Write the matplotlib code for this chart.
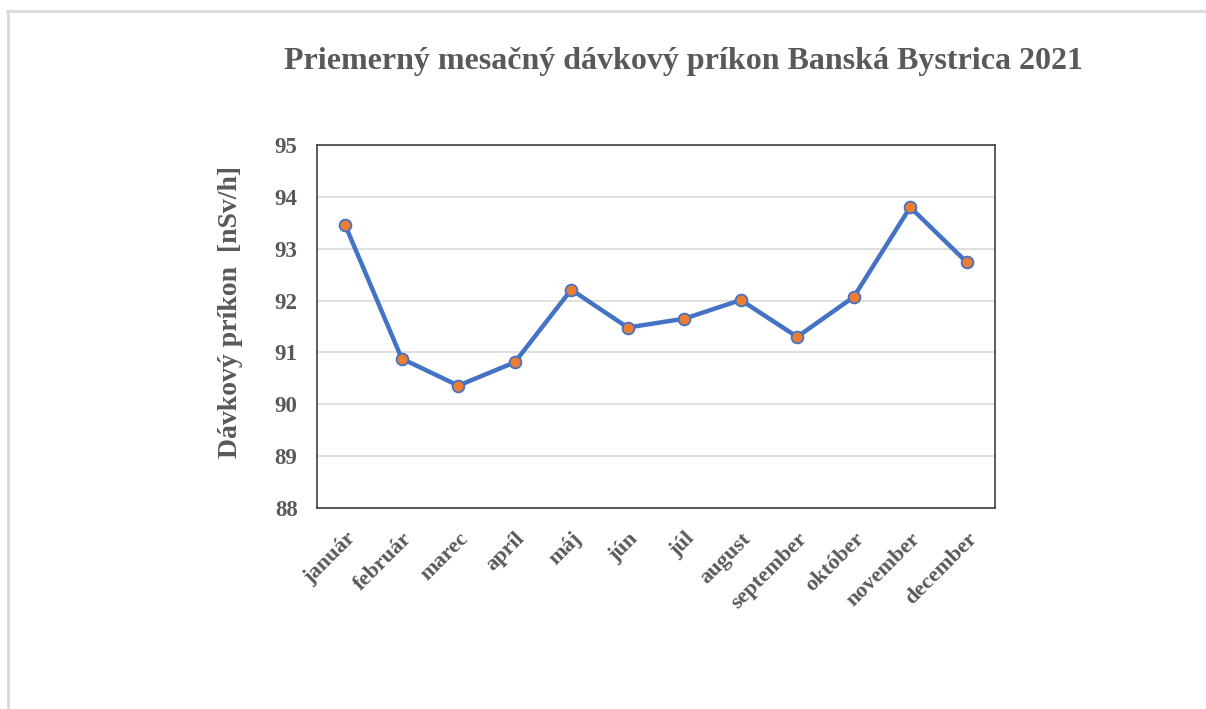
import matplotlib
matplotlib.use('Agg')
import matplotlib.pyplot as plt
from matplotlib.lines import Line2D

# data
MONTHS = ["január", "február", "marec", "apríl", "máj", "jún",
          "júl", "august", "september", "október", "november", "december"]
DOSE_RATE = [93.45, 90.88, 90.36, 90.81, 92.21, 91.48,
             91.65, 92.01, 91.30, 92.07, 93.80, 92.74]
Y_TICKS = [88, 89, 90, 91, 92, 93, 94, 95]

TITLE = "Priemerný mesačný dávkový príkon Banská Bystrica 2021"
YLABEL = "Dávkový príkon  [nSv/h]"

TEXT_COLOR = "#595959"
FONT = "Liberation Serif"

plt.rcParams['font.family'] = [FONT, 'DejaVu Serif']

fig = plt.figure(figsize=(12.06, 7.09), dpi=100)
ax = fig.add_axes([0.2629, 0.2835, 0.5621, 0.5120])

x = list(range(len(MONTHS)))
ax.plot(x, DOSE_RATE, color="#4472C4", linewidth=3.2, marker="o",
        markersize=8.5, markerfacecolor="#ED7D31", markeredgecolor="#4472C4",
        markeredgewidth=1.3, zorder=3)

ax.set_xlim(-0.5, len(MONTHS) - 0.5)
ax.set_ylim(88, 95)
ax.set_yticks(Y_TICKS)
ax.set_yticklabels([str(t) for t in Y_TICKS], fontsize=16.5, fontweight='bold',
                   color=TEXT_COLOR)
ax.set_xticks(x)
ax.set_xticklabels(MONTHS, rotation=45, ha='right', rotation_mode='anchor',
                   fontsize=16, fontweight='bold', color=TEXT_COLOR)
ax.tick_params(axis='both', length=0)
ax.tick_params(axis='x', pad=15)
ax.tick_params(axis='y', pad=14)

ax.grid(axis='y', color="#D9D9D9", linewidth=1.2)
ax.set_axisbelow(True)
for s in ax.spines.values():
    s.set_color("#404040")
    s.set_linewidth(1.2)

fig.text(0.5667, 0.913, TITLE, ha='center', va='center', fontsize=23,
         fontweight='bold', color=TEXT_COLOR)
fig.text(0.191, 0.56, YLABEL, ha='center', va='center', rotation=90,
         fontsize=20, fontweight='bold', color=TEXT_COLOR)

# light frame around the chart area
fig.add_artist(Line2D([0.006, 1.0], [0.985, 0.985], transform=fig.transFigure,
                      color="#D9D9D9", linewidth=2))
fig.add_artist(Line2D([0.0065, 0.0065], [0.0, 0.985], transform=fig.transFigure,
                      color="#D9D9D9", linewidth=2))

fig.savefig("out.png", dpi=100)
